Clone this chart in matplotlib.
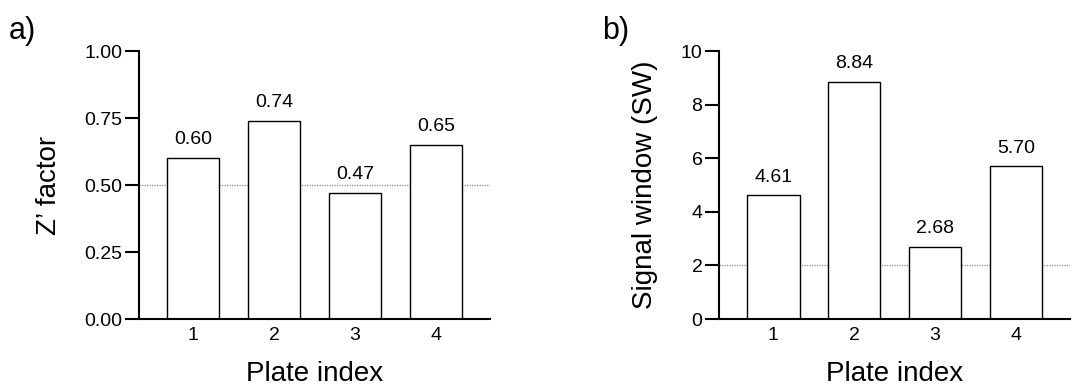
import matplotlib
matplotlib.use("Agg")
import matplotlib.pyplot as plt
import numpy as np

plt.rcParams['font.family'] = ['Liberation Sans', 'DejaVu Sans']

plates = [1, 2, 3, 4]
z_factor = [0.60, 0.74, 0.47, 0.65]
signal_window = [4.61, 8.84, 2.68, 5.70]
z_threshold = 0.5
sw_threshold = 2
z_ticks = [0.00, 0.25, 0.50, 0.75, 1.00]
sw_ticks = [0, 2, 4, 6, 8, 10]

fig = plt.figure(figsize=(10.79, 3.87), dpi=100)
ax_a = fig.add_axes([0.1288, 0.1757, 0.3253, 0.6925])
ax_b = fig.add_axes([0.6664, 0.1757, 0.3253, 0.6925])


def draw_panel(ax, values, threshold, ticks, fmt, ylabel):
    x = np.array(plates)
    ax.axhline(threshold, color='#888888', lw=0.9, ls=(0, (1, 1)), zorder=1)
    ax.bar(x, values, width=0.65, color='white', edgecolor='black', lw=1.0, zorder=2)
    for xi, v in zip(x, values):
        ax.annotate(fmt.format(v), (xi, v), xytext=(0, 7), textcoords='offset points',
                    ha='center', va='bottom', fontsize=14)
    ax.set_xlim(0.33, 4.67)
    ax.set_ylim(ticks[0], ticks[-1])
    ax.set_yticks(ticks)
    ax.set_xticks(x)
    ax.set_xticklabels([str(p) for p in plates])
    ax.spines['top'].set_visible(False)
    ax.spines['right'].set_visible(False)
    ax.spines['left'].set_linewidth(1.5)
    ax.spines['bottom'].set_linewidth(1.5)
    ax.tick_params(axis='y', length=10, width=1.5, pad=2, labelsize=14)
    ax.tick_params(axis='x', length=0, pad=6, labelsize=14)
    ax.set_xlabel("Plate index", fontsize=20, labelpad=12)
    ax.set_ylabel(ylabel, fontsize=20, labelpad=16)


draw_panel(ax_a, z_factor, z_threshold, z_ticks, "{:.2f}", "Z\u2019 factor")
ax_a.set_yticklabels(["{:.2f}".format(t) for t in z_ticks])
draw_panel(ax_b, signal_window, sw_threshold, sw_ticks, "{:.2f}", "Signal window (SW)")

fig.text(0.008, 0.9, "a)", fontsize=22)
fig.text(0.558, 0.9, "b)", fontsize=22)

fig.savefig("out.png", dpi=100)
